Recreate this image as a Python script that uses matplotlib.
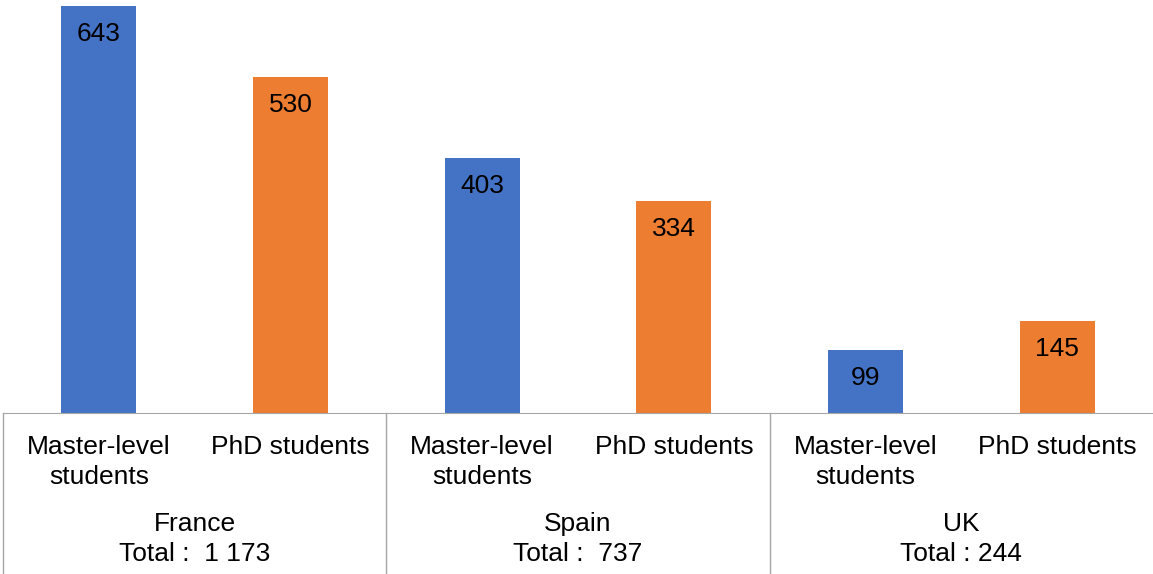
import matplotlib.pyplot as plt
import numpy as np

plt.rcParams['font.family'] = ['Liberation Sans', 'DejaVu Sans']

countries = ['France', 'Spain', 'UK']
totals = ['Total :  1 173', 'Total :  737', 'Total : 244']
levels = ['Master-level\nstudents', 'PhD students']
master = [643, 403, 99]
phd = [530, 334, 145]

blue = '#4472C4'
orange = '#ED7D31'
grid_col = '#A6A6A6'
fs = 19

fig = plt.figure(figsize=(11.53, 5.74), dpi=100)
ax = fig.add_axes([3 / 1153, 1 - 413 / 574, 1150 / 1153, 413 / 574])

n = len(countries)
x = np.arange(n * 2)
vals = []
cols = []
for m, p in zip(master, phd):
    vals += [m, p]
    cols += [blue, orange]

bars = ax.bar(x, vals, width=0.39, color=cols)
ax.set_xlim(-0.5, n * 2 - 0.5)
ax.set_ylim(0, 652)

for b, v in zip(bars, vals):
    ax.annotate(str(v), (b.get_x() + b.get_width() / 2, v),
                xytext=(0, -28), textcoords='offset pixels',
                ha='center', va='center', fontsize=fs)

for s in ['top', 'right', 'left']:
    ax.spines[s].set_visible(False)
ax.spines['bottom'].set_color(grid_col)
ax.set_yticks([])
ax.set_xticks([])

trans = ax.get_xaxis_transform()
px = 1 / 413  # one pixel in axes-y units
for i in range(n * 2):
    ax.text(i, -22 * px, levels[i % 2], transform=trans, ha='center', va='top',
            fontsize=fs, linespacing=1.3, clip_on=False)
for g in range(n):
    cx = 2 * g + 0.5
    ax.text(cx, -99 * px, countries[g] + '\n' + totals[g], transform=trans,
            ha='center', va='top', fontsize=fs, linespacing=1.3, clip_on=False)
    ax.plot([2 * g - 0.5, 2 * g - 0.5], [0, -170 * px], transform=trans,
            color=grid_col, lw=1, clip_on=False)

fig.savefig('out.png', dpi=100)
